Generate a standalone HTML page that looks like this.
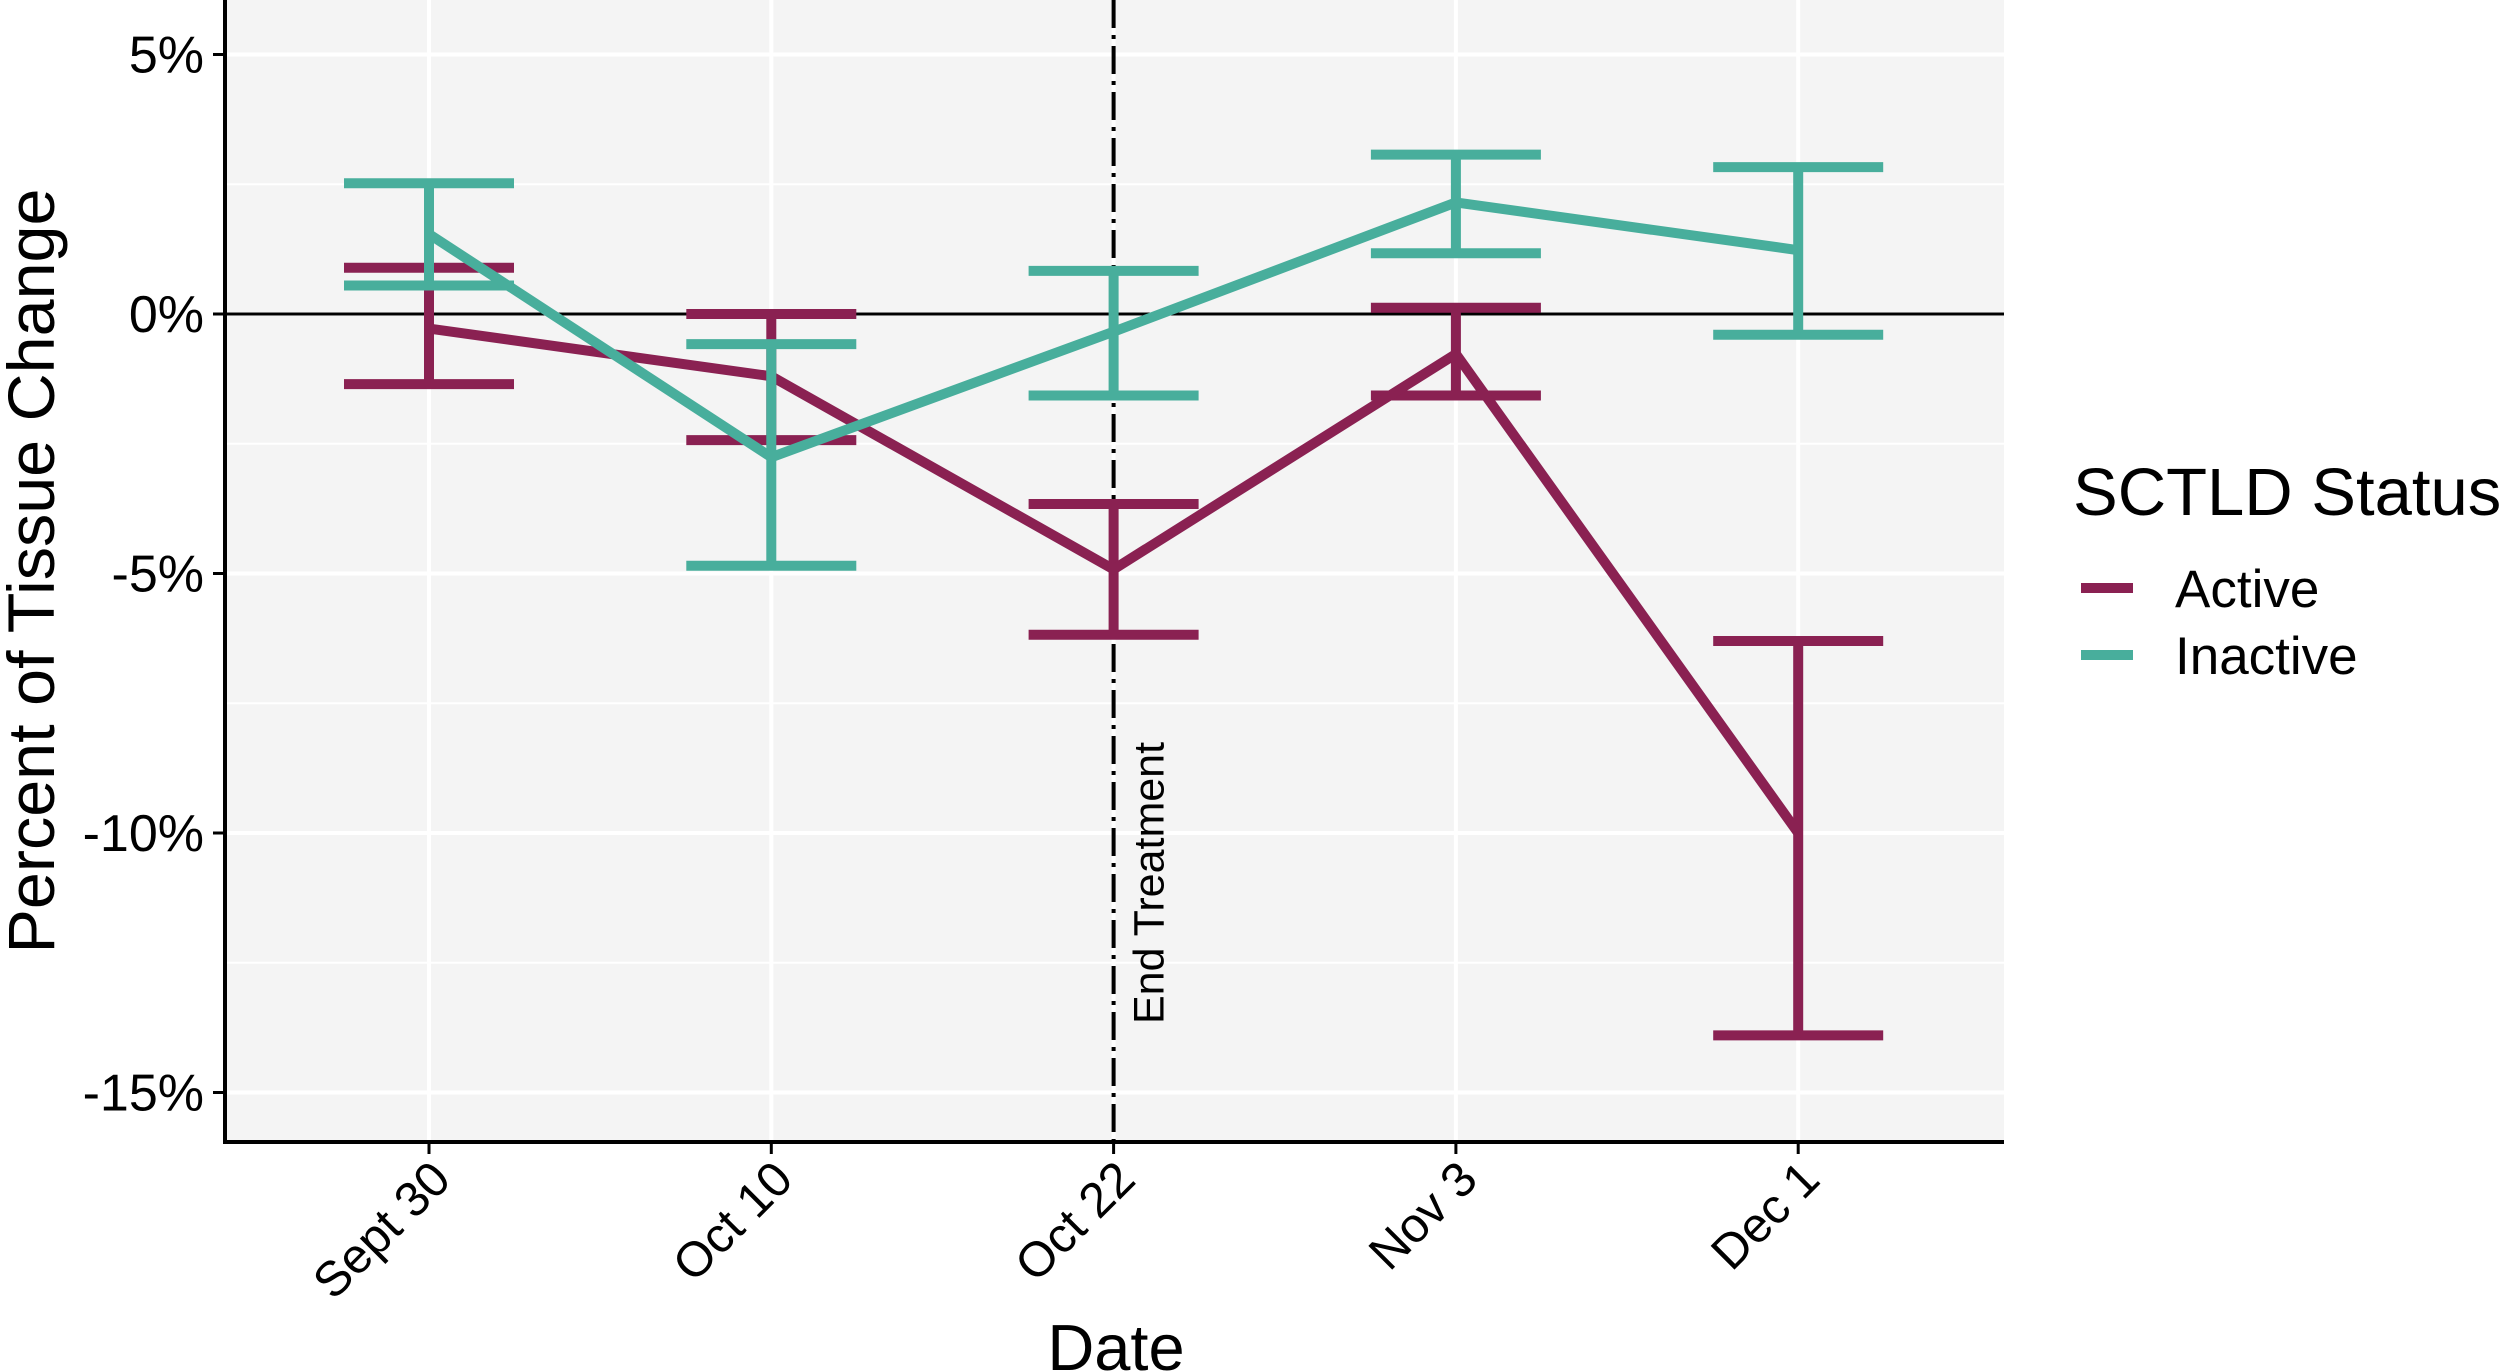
<!DOCTYPE html>
<html><head><meta charset="utf-8"><style>
html,body{margin:0;padding:0;background:#fff}
svg{display:block;font-family:"Liberation Sans",Arial,sans-serif}
</style></head><body>
<svg id="chart" width="2500" height="1372" viewBox="0 0 2500 1372" xmlns="http://www.w3.org/2000/svg">
<rect x="225" y="0" width="1779" height="1142" fill="#f4f4f4"/>
<g id="grid"></g>
<g id="marks"></g>
<g id="axes"></g>
<text transform="translate(54,571) rotate(-90)" text-anchor="middle" font-size="66" textLength="765" lengthAdjust="spacingAndGlyphs">Percent of Tissue Change</text>
<text x="1116" y="1370" text-anchor="middle" font-size="65">Date</text>
<g>
<text x="2073" y="515" font-size="67">SCTLD Status</text>
<line x1="2081" y1="588" x2="2133" y2="588" stroke="#8a2152" stroke-width="10"/>
<text x="2175" y="607" font-size="53">Active</text>
<line x1="2081" y1="655" x2="2133" y2="655" stroke="#48ae9c" stroke-width="10"/>
<text x="2175" y="674" font-size="53">Inactive</text>
</g>
</svg>
<script>
const categories = ["Sept 30","Oct 10","Oct 22","Nov 3","Dec 1"];
const activeMean = [-0.28,-1.2,-4.92,-0.77,-10.0];
const activeLow = [-1.35,-2.43,-6.18,-1.57,-13.9];
const activeHigh = [0.89,0.0,-3.66,0.12,-6.3];
const inactiveMean = [1.54,-2.76,-0.34,2.15,1.23];
const inactiveLow = [0.55,-4.85,-1.57,1.17,-0.4];
const inactiveHigh = [2.52,-0.58,0.83,3.07,2.83];
const yTicks = [5,0,-5,-10,-15];
const yTickLabels = ["5%","0%","-5%","-10%","-15%"];
const yMinor = [2.5,-2.5,-7.5,-12.5];
const treatmentIndex = 2;

const NS="http://www.w3.org/2000/svg";
const L=225,R=2004,T=0,B=1142;
function xPos(i){return 429+i*342.3;}
function yPos(v){return 314-v*51.9;}
function mk(tag,attrs,parent){const e=document.createElementNS(NS,tag);for(const k in attrs)e.setAttribute(k,attrs[k]);parent.appendChild(e);return e;}
const grid=document.getElementById('grid'),marks=document.getElementById('marks'),axes=document.getElementById('axes');

yMinor.forEach(v=>{const g=mk('line',{x1:L,x2:R,y1:yPos(v),y2:yPos(v),stroke:'#fff','stroke-width':2},grid);

});
yTicks.forEach(v=>{const g=mk('line',{x1:L,x2:R,y1:yPos(v),y2:yPos(v),stroke:'#fff','stroke-width':4},grid);

});
categories.forEach((c,i)=>{const g=mk('line',{x1:xPos(i),x2:xPos(i),y1:T,y2:B,stroke:'#fff','stroke-width':4},grid);

});

const zl=mk('line',{x1:L,x2:R,y1:yPos(0),y2:yPos(0),stroke:'#000','stroke-width':3},marks);


const tl=mk('line',{x1:xPos(treatmentIndex),x2:xPos(treatmentIndex),y1:T,y2:B,stroke:'#000','stroke-width':4,'stroke-dasharray':'28 7 4 7'},marks);


const tt=mk('text',{transform:`translate(${xPos(treatmentIndex)+50},1024) rotate(-90)`,'font-size':43},marks);
tt.textContent='End Treatment';



function series(mean,low,high,color,name){
  const g=mk('g',{},marks);
  
  
  mean.forEach((m,i)=>{
    const x=xPos(i);
    const eb=mk('path',{d:`M${x-85},${yPos(high[i])}H${x+85}M${x},${yPos(high[i])}V${yPos(low[i])}M${x-85},${yPos(low[i])}H${x+85}`,stroke:color,'stroke-width':10,fill:'none'},g);
    
    
  });
  const ln=mk('polyline',{points:mean.map((m,i)=>xPos(i)+','+yPos(m)).join(' '),stroke:color,'stroke-width':10,fill:'none','stroke-linejoin':'round'},g);
  
  
}
series(activeMean,activeLow,activeHigh,'#8a2152','active');
series(inactiveMean,inactiveLow,inactiveHigh,'#48ae9c','inactive');

const ax=mk('path',{d:`M${L},${T}V${B}H${R}`,stroke:'#000','stroke-width':4,fill:'none'},axes);


yTicks.forEach((v,i)=>{
  const t=mk('line',{x1:L-12,x2:L,y1:yPos(v),y2:yPos(v),stroke:'#000','stroke-width':3},axes);
  
  
  const lb=mk('text',{x:204,y:yPos(v)+18,'text-anchor':'end','font-size':52},axes);
  lb.textContent=yTickLabels[i];
  
  
});
categories.forEach((c,i)=>{
  const t=mk('line',{x1:xPos(i),x2:xPos(i),y1:B,y2:B+12,stroke:'#000','stroke-width':3},axes);
  
  
  const lb=mk('text',{transform:`translate(${xPos(i)+24},${B+40}) rotate(-45)`,'text-anchor':'end','font-size':49},axes);
  lb.textContent=c;
  
  
});
</script>
</body></html>
